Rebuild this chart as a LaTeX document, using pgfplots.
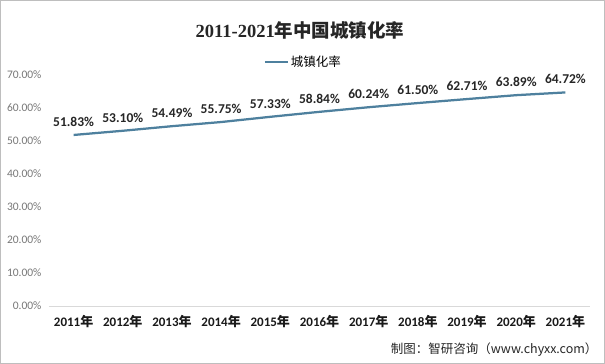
\documentclass[border=0pt]{standalone}
\usepackage{pgfplots}
\pgfplotsset{compat=1.18}
\usepackage{fontspec}
\setmainfont{Carlito}
\newfontfamily\cjk{Noto Sans CJK SC}
\newfontfamily\serifb{Liberation Serif}
\definecolor{linec}{RGB}{78,128,158}
\definecolor{tickc}{RGB}{120,120,120}
\definecolor{framec}{RGB}{190,190,190}
\begin{document}
\begin{tikzpicture}
\useasboundingbox (-49pt,-58pt) rectangle (556pt,306pt);
\fill[white] (-49pt,-58pt) rectangle (556pt,306pt);
\draw[framec, line width=0.8pt] (-48.6pt,-57.6pt) rectangle (555.6pt,305.6pt);
\begin{axis}[
  at={(0,0)}, anchor=south west,
  scale only axis, width=541pt, height=231pt,
  xmin=-0.5, xmax=10.5, ymin=0, ymax=70,
  xtick={0,...,10},
  xticklabels={2011{\cjk\bfseries 年},2012{\cjk\bfseries 年},2013{\cjk\bfseries 年},2014{\cjk\bfseries 年},2015{\cjk\bfseries 年},2016{\cjk\bfseries 年},2017{\cjk\bfseries 年},2018{\cjk\bfseries 年},2019{\cjk\bfseries 年},2020{\cjk\bfseries 年},2021{\cjk\bfseries 年}},
  x tick label style={font=\bfseries\fontsize{13}{15}\selectfont, text=black!90, yshift=-6pt},
  ytick={0,10,...,70},
  yticklabel={\pgfmathprintnumber[fixed,fixed zerofill,precision=2]{\tick}\%},
  /pgf/number format/assume math mode=true,
  y tick label style={font=\fontsize{11.5}{13}\selectfont, text=tickc, xshift=-4pt},
  major tick length=0pt,
  axis lines*=left, separate axis lines,
  y axis line style={draw=none},
  x axis line style={draw=black!15, line width=0.8pt, -},
  clip=false,
  nodes near coords={\pgfmathprintnumber[fixed,fixed zerofill,precision=2]{\pgfplotspointmeta}\%},
  every node near coord/.append style={font=\bfseries\fontsize{13.5}{15}\selectfont, text=black!85, yshift=4pt},
  legend style={draw=none, fill=none, at={(0.47,1.056)}, anchor=center, font=\cjk\fontsize{12.5}{14}\selectfont, legend cell align=left},
  legend image code/.code={\draw[line width=2.25pt, linec] (0pt,0pt) -- (0.8cm,0pt);},
]
\addplot[linec, line width=2.25pt, mark=none] coordinates {
(0,51.83) (1,53.10) (2,54.49) (3,55.75) (4,57.33) (5,58.84) (6,60.24) (7,61.50) (8,62.71) (9,63.89) (10,64.72)};
\addlegendentry{城镇化率}
\end{axis}
\node[font=\fontsize{18.5}{20}\selectfont, text=black!85] at (251pt,276pt) {{\serifb\bfseries 2011-2021}{\cjk\bfseries 年中国城镇化率}};
\node[anchor=east, font=\cjk\fontsize{12.5}{14}\selectfont, text=black!85] at (552pt,-44pt) {制图：智研咨询（www.chyxx.com）};
\end{tikzpicture}
\end{document}
